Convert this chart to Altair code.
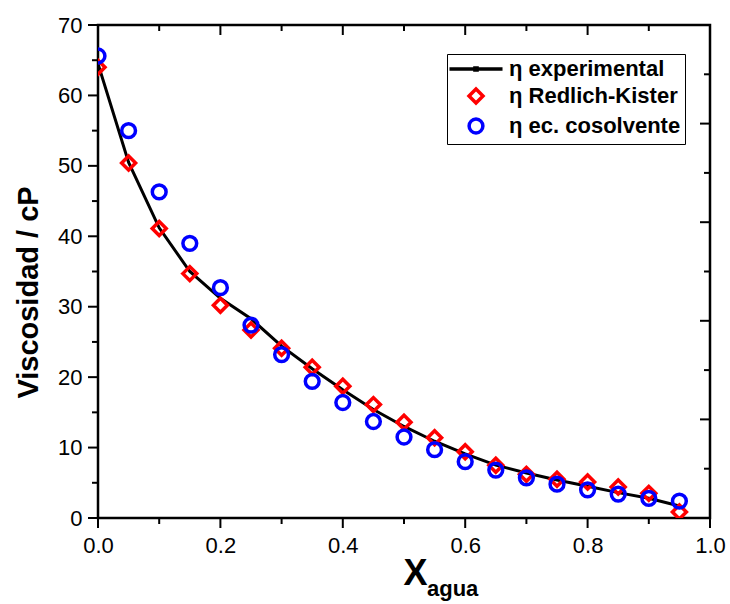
import altair as alt
import pandas as pd

# ---------------- data ----------------
x_agua = [0.00, 0.05, 0.10, 0.15, 0.20, 0.25, 0.30, 0.35, 0.40, 0.45,
          0.50, 0.55, 0.60, 0.65, 0.70, 0.75, 0.80, 0.85, 0.90, 0.95]
eta_exp = [64.5, 50.5, 41.2, 35.0, 31.2, 28.3, 24.4, 21.2, 18.2, 15.4,
           13.0, 10.9, 9.1, 7.5, 6.4, 5.4, 4.5, 3.6, 2.8, 1.7]
eta_rk = [64.0, 50.4, 41.1, 34.7, 30.2, 26.7, 24.1, 21.4, 18.7, 16.1,
          13.6, 11.4, 9.4, 7.5, 6.2, 5.5, 5.1, 4.4, 3.5, 0.85]
eta_cs = [65.6, 55.0, 46.3, 39.0, 32.7, 27.4, 23.2, 19.4, 16.4, 13.7,
          11.5, 9.7, 8.0, 6.8, 5.7, 4.8, 4.0, 3.4, 2.8, 2.4]

series_names = ["η experimental", "η Redlich-Kister", "η ec. cosolvente"]
series_colors = ["#000000", "#ff0000", "#0000ff"]

x_major = [0.0, 0.2, 0.4, 0.6, 0.8, 1.0]
x_minor = [0.1, 0.3, 0.5, 0.7, 0.9]
y_major = [0, 10, 20, 30, 40, 50, 60, 70]
y_minor = [5, 15, 25, 35, 45, 55, 65]
yr_major = [0, 14, 28, 42, 56, 70]
yr_minor = [7, 21, 35, 49, 63]

# ---------------- layout ----------------
W, H = 612, 493
FONT = "Liberation Sans"
MAJ, MIN = 10, 6

xs = alt.Scale(domain=[0, 1], nice=False, zero=False)
ys = alt.Scale(domain=[0, 70], nice=False, zero=False)

exp_df = pd.DataFrame({"x": x_agua, "y": eta_exp})
pts_df = pd.concat([
    pd.DataFrame({"x": x_agua, "y": eta_rk, "serie": series_names[1]}),
    pd.DataFrame({"x": x_agua, "y": eta_cs, "serie": series_names[2]}),
], ignore_index=True)

line = alt.Chart(exp_df).mark_line(color="black", strokeWidth=3, clip=True).encode(
    x=alt.X("x:Q", scale=xs, axis=alt.Axis(
        values=x_major, format=".1f", labelPadding=17, labelFlush=False,
        title="X", titleFontSize=36, titleX=317, titleY=66,
        titleAlign="center", titleBaseline="alphabetic")),
    y=alt.Y("y:Q", scale=ys, axis=alt.Axis(
        values=y_major, labelPadding=16, labelFlush=False,
        title="Viscosidad / cP", titleFontSize=29, titleAngle=270,
        titleX=-61, titleY=267, titleAlign="center", titleBaseline="alphabetic")),
)

legend = alt.Legend(
    orient="none", legendX=349, legendY=29, title=None,
    strokeColor="black", padding=4, rowPadding=2, labelLimit=400,
    labelFont=FONT, labelFontSize=22, labelFontWeight="bold", labelColor="black",
    symbolStrokeWidth=3.5, symbolOffset=14, labelOffset=22,
)
line_path = "M-3.75,0H3.75M-0.15,-0.15H0.15V0.15H-0.15Z"

points = alt.Chart(pts_df).mark_point(filled=False, strokeWidth=3.5, clip=True, opacity=1).encode(
    x=alt.X("x:Q", scale=xs),
    y=alt.Y("y:Q", scale=ys),
    color=alt.Color("serie:N", scale=alt.Scale(domain=series_names, range=series_colors), legend=legend),
    shape=alt.Shape("serie:N", scale=alt.Scale(domain=series_names, range=[line_path, "diamond", "circle"]), legend=legend),
    size=alt.Size("serie:N", scale=alt.Scale(domain=series_names, range=[200, 190, 78]), legend=legend),
)

def xrule(vals, y0, y1):
    return alt.Chart(pd.DataFrame({"x": vals})).mark_rule(color="black", strokeWidth=2, clip=False).encode(
        x=alt.X("x:Q", scale=xs), y=alt.value(y0), y2=alt.value(y1))

def yrule(vals, x0, x1):
    return alt.Chart(pd.DataFrame({"y": vals})).mark_rule(color="black", strokeWidth=2, clip=False).encode(
        y=alt.Y("y:Q", scale=ys), x=alt.value(x0), x2=alt.value(x1))

ticks = [
    xrule(x_major, H, H + MAJ), xrule(x_minor, H, H + MIN),
    xrule(x_major, 0, MAJ), xrule(x_minor, 0, MIN),
    yrule(y_major, -MAJ, 0), yrule(y_minor, -MIN, 0),
    yrule(yr_major, W - MAJ, W), yrule(yr_minor, W - MIN, W),
]

sub = alt.Chart(pd.DataFrame({"t": ["agua"]})).mark_text(
    align="left", baseline="alphabetic", font=FONT, fontSize=22, fontWeight="bold",
    color="black", clip=False).encode(x=alt.value(329), y=alt.value(571), text="t:N")

chart = alt.layer(line, points, *ticks, sub).properties(
    width=W, height=H,
    autosize=alt.AutoSizeParams(type="none"),
    padding={"left": 98, "top": 25, "right": 20, "bottom": 86},
    background="white",
).configure_view(stroke="black", strokeWidth=2.5).configure_axis(
    grid=False, ticks=False, tickSize=0, domain=False,
    labelFont=FONT, labelFontSize=22, labelColor="black",
    titleFont=FONT, titleFontWeight="bold", titleColor="black",
    labelOverlap=False,
)

chart.save("out.html", embed_options={"renderer": "svg", "actions": False})
